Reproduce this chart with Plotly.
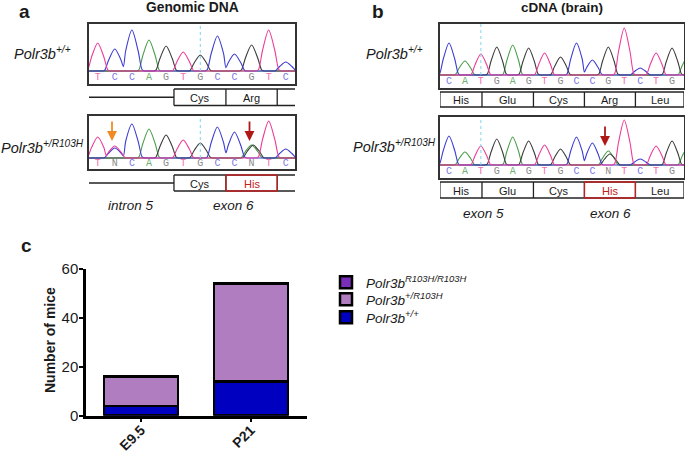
import plotly.graph_objects as go

W, H = 685, 451

# ---------- bar data ----------
stages = ["E9.5", "P21"]
wild_type = [4, 14]
het = [12, 40]
hom = [0, 0]

# ---------- chromatogram data: base calls, peak position (base index), height ----------
a1_calls = list("TCCAGTGCCGTC")
a1_T = ([0, 5, 10], [28, 19, 41])
a1_C = ([1, 2, 7, 8, 11], [22, 41, 35, 17, 9])
a1_A = ([3], [31])
a1_G = ([4, 6, 9], [25, 16, 26])

a2_calls = list("TNCAGTGCCNTC")
a2_T = ([0, 1, 5, 10], [21, 12, 18, 37])
a2_C = ([1, 2, 7, 8, 11], [10, 34, 31, 26, 9])
a2_A = ([3, 9], [29, 13])
a2_G = ([4, 6, 9.1], [23, 15, 13])

b1_calls = list("CATGAGTGCCGTCTG")
b1_T = ([2, 6, 11, 13], [21, 22, 47, 22])
b1_C = ([0, 8, 9, 12], [32, 32, 15, 7])
b1_A = ([1, 4, 15], [14, 30, 19])
b1_G = ([3, 5, 7, 10, 14], [28, 27, 18, 28, 27])

b2_calls = list("CATGAGTGCCNTCTG")
b2_T = ([2, 6, 11, 13], [19, 20, 45, 19])
b2_C = ([0, 8, 9, 12], [29, 28, 22, 6])
b2_A = ([1, 4, 10, 15], [13, 28, 14, 18])
b2_G = ([3, 5, 7, 10.1, 14], [26, 24, 16, 11, 24])

# codon tables: edges in base-index units
a_edges = [4.46, 7.5, 10.5]
a1_codons = ["Cys", "Arg"]
a2_codons = ["Cys", "His"]
b_edges = [-0.57, 2.07, 5.3, 8.5, 11.7, 14.75]
b1_codons = ["His", "Glu", "Cys", "Arg", "Leu"]
b2_codons = ["His", "Glu", "Cys", "His", "Leu"]

# ---------- styles ----------
CH = {"T": "#EC3C98", "C": "#3C3CD2", "A": "#4A9E4A", "G": "#3A3A3A"}
LET = {"T": "#F070B0", "C": "#7878E6", "A": "#70B070", "G": "#8A8A8A", "N": "#8A8A8A"}
FONT = "Liberation Sans, Arial, sans-serif"
TXT = "#1a1a1a"
RED = "#C02020"


def px(x):
    return x / W


def py(y):
    return 1 - y / H


def channel(peaks, x0, x1):
    """Peak outline around each read (position, height) pair."""
    pos, hgt = peaks
    xs, ys = [x0, x0 + 0.02], [0, 0]
    n = len(pos)
    for i, (p, h) in enumerate(zip(pos, hgt)):
        near_prev = i > 0 and p - pos[i - 1] <= 1.5
        near_next = i + 1 < n and pos[i + 1] - p <= 1.5
        if not near_prev:
            xs += [p - 0.95, p - 0.75, p - 0.6]
            ys += [0, 0, 0.03 * h]
        xs += [p - 0.36, p, p + 0.36]
        ys += [0.5 * h, h, 0.5 * h]
        if near_next:
            xs.append((p + pos[i + 1]) / 2)
            ys.append(0.2 * min(h, hgt[i + 1]))
        else:
            xs += [p + 0.6, p + 0.75, p + 0.95]
            ys += [0.03 * h, 0, 0]
    xs += [x1 - 0.02, x1]
    ys += [0, 0]
    return xs, ys


fig = go.Figure()

# ---------- stacked bars (each legend row is its own legend box) ----------
for name, vals, col, lg in [
    ("<i>Polr3b<sup>+/+</sup></i>", wild_type, "#0000C0", "legend3"),
    ("<i>Polr3b<sup>+/R103H</sup></i>", het, "#B07EC0", "legend2"),
    ("<i>Polr3b<sup>R103H/R103H</sup></i>", hom, "#7A2DB8", "legend"),
]:
    fig.add_bar(x=stages, y=vals, name=name, width=0.67, legend=lg, showlegend=True,
                marker=dict(color=col, line=dict(color="#000", width=2.5)),
                hoverinfo="skip", xaxis="x", yaxis="y")

# ---------- chromatogram panels ----------
panels = [
    ("x2", "y2", (89, 295), (24, 84), 71, (-0.51, 11.54), a1_calls, (a1_A, a1_G, a1_C, a1_T), 6),
    ("x3", "y3", (89, 295), (116, 169), 158, (-0.51, 11.54), a2_calls, (a2_A, a2_G, a2_C, a2_T), 6),
    ("x4", "y4", (440, 684), (24, 88), 75, (-0.565, 14.75), b1_calls, (b1_A, b1_G, b1_C, b1_T), 2),
    ("x5", "y5", (440, 684), (117, 178), 165, (-0.565, 14.75), b2_calls, (b2_A, b2_G, b2_C, b2_T), 2),
]
layout_axes = {}
shapes = []
for xa, ya, (l, r), (t, b), base, xr, calls, chans, mark in panels:
    yr = [-(b - base), base - t]
    for key, peaks in zip("AGCT", chans):
        xs, ys = channel(peaks, xr[0], xr[1])
        fig.add_scatter(x=xs, y=ys, mode="lines", xaxis=xa, yaxis=ya, showlegend=False,
                        hoverinfo="skip",
                        line=dict(color=CH[key], width=1.1, shape="spline", smoothing=0.8))
    fig.add_scatter(x=list(range(len(calls))), y=[yr[0] * 0.5] * len(calls), mode="text",
                    text=calls, xaxis=xa, yaxis=ya, showlegend=False, hoverinfo="skip",
                    textfont=dict(family="Liberation Mono, monospace", size=10,
                                  color=[LET[c] for c in calls]))
    common = dict(showline=True, mirror=True, linecolor="#333", linewidth=1.5, automargin=False,
                  showgrid=False, zeroline=False, showticklabels=False, ticks="")
    layout_axes["xaxis" + xa[1:]] = dict(domain=[px(l), px(r)], range=list(xr),
                                         anchor=ya, **common)
    layout_axes["yaxis" + ya[1:]] = dict(domain=[py(b), py(t)], range=yr, anchor=xa, **common)
    shapes.append(dict(type="line", xref=xa, yref=ya, x0=mark, x1=mark, y0=0, y1=yr[1],
                       line=dict(color="#7FD4EE", width=1, dash="dot")))

annotations = []


def note(text, x, y, size, color=TXT, xref="paper", xv=None, angle=0):
    annotations.append(dict(text=text, x=(px(x) if xv is None else xv), y=py(y), xref=xref,
                            yref="paper", showarrow=False, xanchor="center", yanchor="middle",
                            textangle=angle,
                            font=dict(family=FONT, size=size, color=color)))


def hline(xref, x0, x1, y, color="#222", width=1.3):
    shapes.append(dict(type="line", xref=xref, yref="paper", x0=x0, x1=x1, y0=py(y), y1=py(y),
                       line=dict(color=color, width=width)))


def vline(xref, x, y0, y1, color="#222", width=1.3):
    shapes.append(dict(type="line", xref=xref, yref="paper", x0=x, x1=x, y0=py(y0), y1=py(y1),
                       line=dict(color=color, width=width)))


# genomic rows
for xref, (top, bot), codons in [("x2", (89, 105.5), a1_codons), ("x3", (175, 191), a2_codons)]:
    mid = (top + bot) / 2
    hline(xref, -0.51, a_edges[0], mid)
    hline(xref, a_edges[0], 11.54, top)
    hline(xref, a_edges[0], 11.54, bot)
    for e in a_edges:
        vline(xref, e, top, bot)
    for i, c in enumerate(codons):
        red = c == "His"
        x0, x1 = a_edges[i], a_edges[i + 1]
        if red:
            hline(xref, x0, x1, top, RED)
            hline(xref, x0, x1, bot, RED)
            vline(xref, x0, top, bot, RED)
            vline(xref, x1, top, bot, RED)
        note(c, 0, mid + 0.5, 11, RED if red else TXT, xref, (x0 + x1) / 2)

# cDNA rows
for xref, (top, bot), codons in [("x4", (92, 107), b1_codons), ("x5", (182, 198), b2_codons)]:
    mid = (top + bot) / 2
    hline(xref, b_edges[0], b_edges[-1], top)
    hline(xref, b_edges[0], b_edges[-1], bot)
    for e in b_edges:
        vline(xref, e, top, bot)
    for i, c in enumerate(codons):
        red = c == "His" and i == 3
        x0, x1 = b_edges[i], b_edges[i + 1]
        if red:
            hline(xref, x0, x1, top, RED)
            hline(xref, x0, x1, bot, RED)
            vline(xref, x0, top, bot, RED)
            vline(xref, x1, top, bot, RED)
        note(c, 0, mid + 0.5, 11, RED if red else TXT, xref, (x0 + x1) / 2)

# texts
note("<b>a</b>", 25, 11, 19)
note("<b>b</b>", 378, 11, 19)
note("<b>c</b>", 26, 245, 19)
note("<b>Genomic DNA</b>", 192, 8, 13.8)
note("<b>cDNA (brain)</b>", 562, 8, 13.5)
note("<i>Polr3b<sup>+/+</sup></i>", 42, 53, 14.5)
note("<i>Polr3b<sup>+/R103H</sup></i>", 42.5, 147, 14.5)
note("<i>Polr3b<sup>+/+</sup></i>", 394, 53, 14.5)
note("<i>Polr3b<sup>+/R103H</sup></i>", 394.5, 146, 14.5)
note("<i>intron 5</i>", 131, 205, 13.5)
note("<i>exon 6</i>", 233, 205, 13.5)
note("<i>exon 5</i>", 483, 213, 13.5)
note("<i>exon 6</i>", 610, 213, 13.5)
note("<b>Number of mice</b>", 50, 340, 14, angle=-90)

# arrows
for x, y0, y1, col in [(112, 120, 141, "#F08A24"), (249.5, 120, 141, "#B01818"), (605, 125, 146, "#B01818")]:
    annotations.append(dict(text="", x=px(x), y=py(y1), xref="paper", yref="paper",
                            ax=0, ay=-(y1 - y0), axref="pixel", ayref="pixel", showarrow=True,
                            arrowhead=2, arrowsize=1.1, arrowwidth=1.8, arrowcolor=col))


def row_legend(top):
    return dict(x=px(326), y=py(top), xanchor="left", yanchor="top",
                bgcolor="rgba(0,0,0,0)", font=dict(family=FONT, size=13.5, color=TXT))


fig.update_layout(
    width=W, height=H, margin=dict(l=0, r=0, t=0, b=0),
    paper_bgcolor="white", plot_bgcolor="white",
    barmode="stack", bargap=0.33,
    font=dict(family=FONT, color=TXT),
    xaxis=dict(domain=[px(86), px(307)], range=[-0.5, 1.51], anchor="y", showline=True,
               automargin=False, ticklabelstandoff=-6,
               linecolor="#000", linewidth=2.5, ticks="outside", ticklen=4, tickwidth=2,
               tickcolor="#000", tickangle=-45, showgrid=False, zeroline=False,
               tickfont=dict(family=FONT, size=14, color=TXT), tickprefix="<b>", ticksuffix="</b>"),
    yaxis=dict(domain=[py(415.7), py(269)], range=[0, 60], anchor="x", showline=True,
               automargin=False, ticklabelstandoff=-2,
               linecolor="#000", linewidth=2.5, ticks="outside", ticklen=4, tickwidth=2,
               tickcolor="#000", tickvals=[0, 20, 40, 60], showgrid=False, zeroline=False,
               tickfont=dict(family=FONT, size=15, color=TXT), tickprefix="<b>", ticksuffix="</b>"),
    legend=row_legend(267), legend2=row_legend(284), legend3=row_legend(302),
    shapes=shapes, annotations=annotations,
    **layout_axes,
)

fig.write_html("out.html", config={"displayModeBar": False},
               post_script="document.body.style.margin='0';")
